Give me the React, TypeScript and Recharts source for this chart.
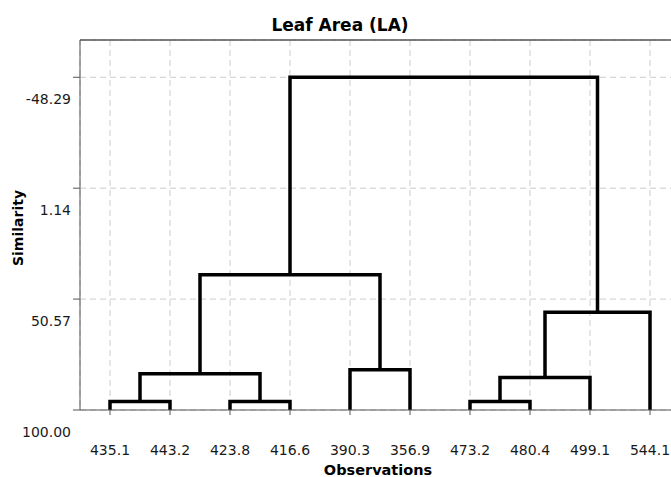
import React from 'react';
import { LineChart, Line, XAxis, YAxis, CartesianGrid, ReferenceLine } from 'recharts';

// Leaves (observations) in dendrogram order
const leafLabels = ['435.1', '443.2', '423.8', '416.6', '390.3', '356.9', '473.2', '480.4', '499.1', '544.1'];
// Merge steps: cluster ids 0..9 are leaves, 10+ are merges in order
const mergeLeft = [0, 2, 10, 4, 12, 6, 15, 16, 14];
const mergeRight = [1, 3, 11, 5, 13, 7, 8, 9, 17];
const mergeSimilarity = [96.2, 96.2, 83.8, 82.1, 39.7, 96.2, 85.5, 56.4, -48.29];
const yTicks = [-48.29, 1.14, 50.57, 100];
const leafSimilarity = 100;

const positions: number[] = leafLabels.map((_, i) => i);
const heights: number[] = leafLabels.map(() => leafSimilarity);
const links = mergeLeft.map((l, k) => {
  const r = mergeRight[k];
  const h = mergeSimilarity[k];
  const seg = [
    { x: positions[l], y: heights[l] },
    { x: positions[l], y: h },
    { x: positions[r], y: h },
    { x: positions[r], y: heights[r] },
  ];
  positions.push((positions[l] + positions[r]) / 2);
  heights.push(h);
  return seg;
});

const FONT = '"DejaVu Sans", Verdana, sans-serif';
const AXIS = '#555555';

const YTick = (props: any) => {
  const { x, y, payload } = props;
  return (
    <text x={x} y={y + 22} textAnchor="end" dominantBaseline="central" fontFamily={FONT} fontSize={14} fill="#1a1a1a">
      {Number(payload.value).toFixed(2)}
    </text>
  );
};

const XTick = (props: any) => {
  const { x, y, payload } = props;
  return (
    <text x={x} y={y + 33} textAnchor="middle" dominantBaseline="central" fontFamily={FONT} fontSize={14} fill="#1a1a1a">
      {leafLabels[payload.value]}
    </text>
  );
};

export default function App() {
  return (
    <div style={{ position: 'absolute', left: 0, top: 0, width: 671, height: 477, overflow: 'hidden', background: '#fff' }}>
      <LineChart width={700} height={477} margin={{ top: 40, right: 20, bottom: 0, left: 0 }}>
        <CartesianGrid stroke="#cccccc" strokeDasharray="6 4" />
        <XAxis
          type="number"
          dataKey="x"
          domain={[-0.5, 9.5]}
          allowDataOverflow
          ticks={leafLabels.map((_, i) => i)}
          interval={0}
          height={67}
          tickSize={5}
          tick={<XTick />}
          stroke={AXIS}
        />
        <YAxis
          type="number"
          dataKey="y"
          domain={[-64.9, 100]}
          allowDataOverflow
          reversed
          ticks={yTicks}
          interval={0}
          width={80}
          tickSize={7}
          tick={<YTick />}
          stroke={AXIS}
        />
        <ReferenceLine y={-64.9} stroke={AXIS} strokeWidth={1.5} ifOverflow="visible" />
        {links.map((seg, i) => (
          <Line
            key={i}
            data={seg}
            dataKey="y"
            type="linear"
            stroke="#000"
            strokeWidth={3.5}
            dot={false}
            activeDot={false}
            isAnimationActive={false}
          />
        ))}
      </LineChart>
      <div style={{ position: 'absolute', left: 340, top: 25, transform: 'translate(-50%, -50%)', fontFamily: FONT, fontWeight: 'bold', fontSize: 17, lineHeight: 1, whiteSpace: 'nowrap', color: '#000' }}>
        Leaf Area (LA)
      </div>
      <div style={{ position: 'absolute', left: 378, top: 470, transform: 'translate(-50%, -50%)', fontFamily: FONT, fontWeight: 'bold', fontSize: 14.5, lineHeight: 1, whiteSpace: 'nowrap', color: '#000' }}>
        Observations
      </div>
      <div style={{ position: 'absolute', left: 18, top: 228, transform: 'translate(-50%, -50%) rotate(-90deg)', fontFamily: FONT, fontWeight: 'bold', fontSize: 14, lineHeight: 1, whiteSpace: 'nowrap', color: '#000' }}>
        Similarity
      </div>
    </div>
  );
}
